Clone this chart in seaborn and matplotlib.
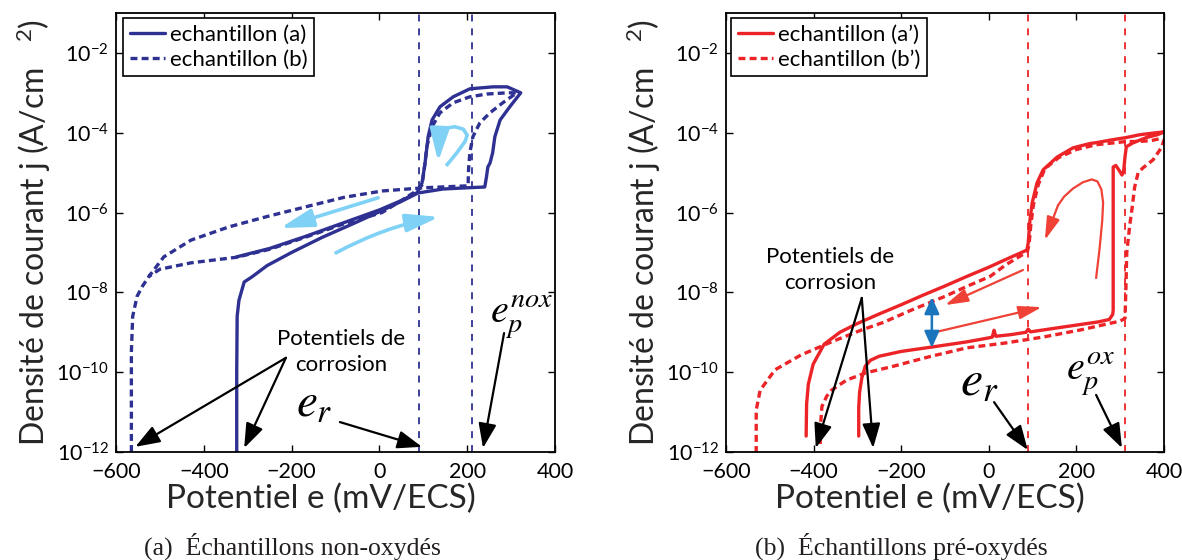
import numpy as np
import pandas as pd
import matplotlib
matplotlib.use("Agg")
import matplotlib.pyplot as plt
from matplotlib.ticker import NullLocator
import seaborn as sns

# ---------------- data : potential (mV/ECS) and log10 of current density (A/cm2) ----------------
# left panel, sample (a) solid : forward scan followed by reverse scan
a_e = [-325, -325, -324, -320, -308, -290, -256, -200, -130, -60, 0, 50, 88, 145, 200, 240, 244, 247, 252, 258, 263, 275, 297, 322,
       291, 259, 206, 168, 138, 120, 111, 104, 97, 86, 54, 1, -80, -169, -250, -325]
a_logj = [-12, -10, -8.6, -8.2, -7.74, -7.61, -7.33, -7.0, -6.62, -6.28, -5.98, -5.72, -5.51, -5.41, -5.38, -5.36, -5.1, -4.86, -4.76, -4.5, -4.1, -3.68, -3.35, -3.0,
          -2.85, -2.85, -2.9, -3.1, -3.35, -3.68, -4.1, -4.76, -5.26, -5.5, -5.68, -5.93, -6.25, -6.6, -6.9, -7.11]
# left panel, sample (b) dashed
b_e = [-565, -565, -562, -552, -540, -525, -491, -429, -343, -256, -169, -81, 6, 100, 202, 203, 206, 213, 229, 252, 281, 313,
       291, 245, 206, 168, 138, 120, 108, 102, 97, 88, 50, 6, -80, -169, -250, -325, -429, -500, -525]
b_logj = [-12, -9.5, -8.6, -8.1, -7.85, -7.6, -7.11, -6.69, -6.36, -6.1, -5.86, -5.62, -5.46, -5.38, -5.33, -4.93, -4.5, -4.1, -3.75, -3.5, -3.25, -3.0,
          -3.0, -3.03, -3.1, -3.25, -3.5, -3.85, -4.35, -4.93, -5.31, -5.43, -5.7, -6.0, -6.28, -6.62, -6.92, -7.12, -7.26, -7.42, -7.6]
# right panel, sample (a') solid
ap_e = [-297, -297, -295, -290, -282, -270, -250, -200, -130, -50, 0, 8, 12, 16, 50, 85, 90, 95, 150, 200,
        250, 275, 283, 284, 284, 290, 298, 304, 308, 311, 314, 330, 360, 385, 400,
        382, 345, 314, 280, 245, 231, 192, 156, 124, 110, 99, 94, 90, 87, 40, 0, -50, -100, -150, -200,
        -250, -300, -340, -376, -401, -412, -416, -417]
ap_logj = [-11.6, -10.9, -10.5, -10.15, -9.85, -9.7, -9.6, -9.48, -9.37, -9.24, -9.14, -9.12, -8.95, -9.1, -9.06, -9.0, -8.92, -8.99, -8.9, -8.82,
           -8.74, -8.68, -8.55, -8.44, -4.86, -4.82, -4.95, -5.06, -4.95, -4.6, -4.35, -4.25, -4.12, -4.05, -3.98,
           -4.0, -4.05, -4.12, -4.18, -4.25, -4.27, -4.38, -4.61, -4.93, -5.26, -5.76, -6.19, -6.76, -6.94, -7.17, -7.37, -7.6, -7.84, -8.07, -8.31,
           -8.54, -8.78, -9.0, -9.3, -9.8, -10.3, -10.8, -11.6]
# right panel, sample (b') dashed
bp_e = [-385, -384, -381, -370, -359, -325, -282, -221, -135, -50, 37, 124, 210, 279, 300, 311, 313, 315, 322, 327,
        333, 341, 352, 375, 395, 400,
        390, 370, 340, 314, 280, 245, 200, 160, 128, 113, 102, 96, 92, 88, 78, 40, 3, -50, -100, -178,
        -240, -290, -359, -429, -488, -522, -531, -531]
bp_logj = [-11.8, -11.3, -10.86, -10.6, -10.45, -10.2, -10.02, -9.86, -9.61, -9.39, -9.27, -9.12, -8.94, -8.77, -8.72, -8.65, -7.9, -7.0, -6.3, -5.9,
           -5.36, -5.0, -4.88, -4.68, -4.36, -4.18,
           -4.15, -4.2, -4.22, -4.22, -4.26, -4.3, -4.42, -4.62, -4.9, -5.3, -5.8, -6.3, -6.8, -6.98, -7.05, -7.3, -7.6, -7.85, -8.1, -8.45,
           -8.75, -8.94, -9.24, -9.57, -9.94, -10.45, -10.95, -12]

er_left, ep_left = 90, 210
er_right, ep_right = 90, 310

legend_left = ["echantillon (a)", "echantillon (b)"]
legend_right = ["echantillon (a\u2019)", "echantillon (b\u2019)"]
xticks = [-600, -400, -200, 0, 200, 400]
yticks = [1e-12, 1e-10, 1e-8, 1e-6, 1e-4, 1e-2]
xlabel = "Potentiel e (mV/ECS)"
ylabel = "Densit\u00e9 de courant j (A/cm$\\quad^{2}$)"
corr_text = "Potentiels de\ncorrosion"
captions = ["(a)  \u00c9chantillons non-oxyd\u00e9s", "(b)  \u00c9chantillons pr\u00e9-oxyd\u00e9s"]

# ---------------- style ----------------
sns.set_theme(style="ticks")
plt.rcParams["font.family"] = ["Lato", "DejaVu Sans"]
plt.rcParams["mathtext.fontset"] = "custom"
plt.rcParams["mathtext.rm"] = "Lato"
plt.rcParams["mathtext.it"] = "Lato:italic"
plt.rcParams["mathtext.bf"] = "Lato:bold"
plt.rcParams["lines.scale_dashes"] = False
plt.rcParams["axes.edgecolor"] = "black"
plt.rcParams["text.color"] = "black"

BLUE = "#2e3192"
CYAN = "#7fd1f5"
RED = "#ec2327"
ORANGE = "#ef4136"
ABLUE = "#1b75bc"

W, H = 1182, 560
fig = plt.figure(figsize=(W / 100, H / 100), dpi=100)
axL = fig.add_axes([116 / W, 1 - 452 / H, 439 / W, 439 / H])
axR = fig.add_axes([726 / W, 1 - 452 / H, 438 / W, 439 / H])


def J(v):
    return 10.0 ** v


def draw_curve(ax, e, logj, color, dashed):
    df = pd.DataFrame({"e": e, "j": J(np.asarray(logj, dtype=float))})
    sns.lineplot(data=df, x="e", y="j", sort=False, estimator=None, ax=ax,
                 color=color, lw=2.4, legend=False)
    ln = ax.lines[-1]
    ln.set_solid_joinstyle("round")
    if dashed:
        ln.set_dashes((5, 3))
    return ln


def arrow(ax, tail, tip, color, lw, ms, hl, hw, style="-|>", rad=0.0):
    ax.annotate("", xy=(tip[0], J(tip[1])), xytext=(tail[0], J(tail[1])),
                arrowprops=dict(arrowstyle=f"{style},head_length={hl},head_width={hw}",
                                color=color, lw=lw, mutation_scale=ms,
                                shrinkA=0, shrinkB=0,
                                connectionstyle=f"arc3,rad={rad}"))


def setup(ax, leg_handles, leg_labels, leg_x):
    ax.set_yscale("log")
    ax.set_xlim(-600, 400)
    ax.set_ylim(1e-12, 1e-1)
    ax.set_xticks(xticks)
    ax.set_yticks(yticks)
    ax.yaxis.set_minor_locator(NullLocator())
    ax.tick_params(direction="in", length=5, width=1.0, top=True, right=True,
                   labelsize=15.5, pad=5, colors="black")
    ax.tick_params(axis="x", pad=7.5)
    for s in ax.spines.values():
        s.set_visible(True)
        s.set_linewidth(1.3)
        s.set_color("black")
    ax.set_xlabel(xlabel, fontsize=24)
    ax.set_ylabel(ylabel, fontsize=23)
    ax.xaxis.set_label_coords(0.466, -0.072)
    ax.yaxis.set_label_coords(-0.143, 0.5)
    leg = ax.legend(leg_handles, leg_labels, loc="upper left", bbox_to_anchor=(leg_x, 0.989),
                    borderaxespad=0, frameon=True, fancybox=False, edgecolor="black",
                    framealpha=1, fontsize=16, handlelength=1.6, handletextpad=0.2,
                    borderpad=0.3, labelspacing=0.22)
    leg.get_frame().set_linewidth(1.2)


# ---------------- left panel ----------------
la = draw_curve(axL, a_e, a_logj, BLUE, False)
lb = draw_curve(axL, b_e, b_logj, BLUE, True)
for xv in (er_left, ep_left):
    axL.axvline(xv, color=BLUE, lw=1.3, dashes=(5, 5))
setup(axL, [la, lb], legend_left, 0.016)

# cyan direction arrows
arrow(axL, (-3, -5.63), (-226, -6.39), CYAN, 2.6, 10, 2.0, 0.55)
arrow(axL, (-99, -7.01), (136, -6.11), CYAN, 2.6, 10, 2.0, 0.55, rad=-0.08)
curl_e = [152, 176, 195, 200, 191, 172, 149, 137]
curl_l = [-4.83, -4.51, -4.22, -4.06, -3.91, -3.85, -3.89, -4.0]
axL.plot(curl_e, J(np.array(curl_l)), color=CYAN, lw=2.6, solid_capstyle="butt")
arrow(axL, (137, -4.0), (134, -4.72), CYAN, 2.6, 10, 2.0, 0.6)

# black annotations
axL.text(-87, J(-9.49), corr_text, ha="center", va="center", fontsize=16, linespacing=1.35)
arrow(axL, (-213, -9.64), (-556, -11.87), "black", 1.6, 10, 1.5, 0.55)
arrow(axL, (-213, -9.64), (-308, -11.9), "black", 1.6, 10, 1.5, 0.55)
axL.text(-190, J(-11.12), r"$e_r$", ha="left", va="baseline", fontsize=34, math_fontfamily="stix")
arrow(axL, (-90, -11.25), (97, -11.87), "black", 1.6, 10, 1.5, 0.55)
axL.text(253, J(-8.77), r"$e_p^{nox}$", ha="left", va="baseline", fontsize=29, math_fontfamily="stix")
arrow(axL, (284, -9.02), (236, -11.9), "black", 1.6, 10, 1.5, 0.55)

# ---------------- right panel ----------------
lap = draw_curve(axR, ap_e, ap_logj, RED, False)
lbp = draw_curve(axR, bp_e, bp_logj, RED, True)
for xv in (er_right, ep_right):
    axR.axvline(xv, color=RED, lw=1.3, dashes=(5, 5))
setup(axR, [lap, lbp], legend_right, 0.0114)

rc_e = [245, 253, 259, 261, 257, 248, 235, 215, 192, 172, 158]
rc_l = [-7.64, -6.9, -6.2, -5.75, -5.42, -5.22, -5.17, -5.24, -5.4, -5.6, -5.82]
axR.plot(rc_e, J(np.array(rc_l)), color=ORANGE, lw=1.6)
arrow(axR, (158, -5.82), (128, -6.69), ORANGE, 1.6, 10, 1.4, 0.4)
arrow(axR, (78, -7.44), (-100, -8.32), ORANGE, 1.6, 10, 1.4, 0.4)
arrow(axR, (-131, -9.02), (121, -8.37), ORANGE, 1.6, 10, 1.4, 0.4)
arrow(axR, (-130, -9.39), (-130, -8.12), ABLUE, 1.8, 10, 1.0, 0.45, style="<|-|>")

axR.text(-363, J(-7.44), corr_text, ha="center", va="center", fontsize=16, linespacing=1.35)
arrow(axR, (-290, -8.14), (-395, -11.9), "black", 1.6, 10, 1.5, 0.55)
arrow(axR, (-290, -8.14), (-264, -11.9), "black", 1.6, 10, 1.5, 0.55)
axR.text(-66, J(-10.57), r"$e_r$", ha="left", va="baseline", fontsize=36, math_fontfamily="stix")
arrow(axR, (12, -10.75), (89, -11.95), "black", 1.6, 10, 1.5, 0.55)
axR.text(176, J(-10.2), r"$e_p^{ox}$", ha="left", va="baseline", fontsize=29, math_fontfamily="stix")
arrow(axR, (245, -10.57), (304, -11.9), "black", 1.6, 10, 1.5, 0.55)

# ---------------- captions ----------------
fig.text(292 / W, 1 - 546 / H, captions[0], ha="center", va="center",
         family="Liberation Serif", fontsize=18.5, color="#231f20")
fig.text(901 / W, 1 - 546 / H, captions[1], ha="center", va="center",
         family="Liberation Serif", fontsize=18.5, color="#231f20")

fig.savefig("out.png", dpi=100)
